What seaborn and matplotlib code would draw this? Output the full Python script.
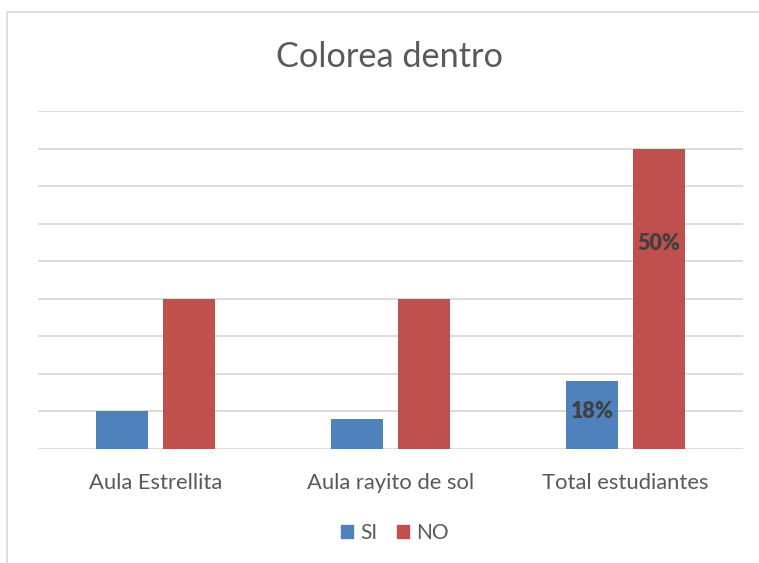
import pandas as pd
import matplotlib.pyplot as plt
import seaborn as sns
from matplotlib.patches import Rectangle

sns.set_theme(style="white")
plt.rcParams["font.family"] = ["Lato", "DejaVu Sans"]

categories = ["Aula Estrellita", "Aula rayito de sol", "Total estudiantes"]
si_values = [1.0, 0.8, 1.8]
no_values = [4.0, 4.0, 8.0]
series = ["SI", "NO"]
colors = {"SI": "#4f81bd", "NO": "#c0504d"}
bar_labels = {("SI", "Total estudiantes"): "18%", ("NO", "Total estudiantes"): "50%"}

df = pd.DataFrame({
    "grupo": categories * 2,
    "serie": ["SI"] * 3 + ["NO"] * 3,
    "valor": si_values + no_values,
})

fig = plt.figure(figsize=(7.59, 5.63), dpi=100)
ax = fig.add_axes([38 / 759, 1 - 449 / 563, (743 - 38) / 759, (449 - 111) / 563])

sns.barplot(data=df, x="grupo", y="valor", hue="serie", hue_order=series,
            palette=colors, width=0.57, gap=0.22, saturation=1, linewidth=0, ax=ax)

ax.set_ylim(0, 9)
ax.set_yticks(range(0, 10))
ax.yaxis.grid(True, color="#d9d9d9", linewidth=1.3)
ax.set_axisbelow(True)
ax.tick_params(axis="y", left=False, labelleft=False)
ax.tick_params(axis="x", bottom=False, labelsize=15.8, labelcolor="#595959", pad=11)
ax.set_xlabel("")
ax.set_ylabel("")
for s in ax.spines.values():
    s.set_visible(False)

# etiquetas de porcentaje
for cont, serie in zip(ax.containers, series):
    for rect, cat in zip(cont, categories):
        txt = bar_labels.get((serie, cat))
        if txt:
            frac = 0.55 if serie == "SI" else 0.685
            ax.text(rect.get_x() + rect.get_width() / 2, rect.get_height() * frac, txt,
                    ha="center", va="center", fontsize=15.5, fontweight="heavy", color="#404040")

ax.legend_.remove()
handles = [Rectangle((0, 0), 1, 1, color=colors[s]) for s in series]
fig.legend(handles, series, loc="center", bbox_to_anchor=(395 / 759, 1 - 533 / 563), ncol=2,
           frameon=False, fontsize=15, labelcolor="#595959", handlelength=0.6,
           handleheight=0.6, handletextpad=0.35, columnspacing=0.9)

fig.text(390 / 759, 1 - 57 / 563, "Colorea dentro", ha="center", va="center",
         fontsize=24.7, color="#595959")

fig.patches.append(Rectangle((7 / 759, -0.1), 1.2, 1 - 12 / 563 + 0.1, transform=fig.transFigure,
                             fill=False, edgecolor="#d9d9d9", linewidth=1.2))

fig.savefig("out.png", dpi=100)
